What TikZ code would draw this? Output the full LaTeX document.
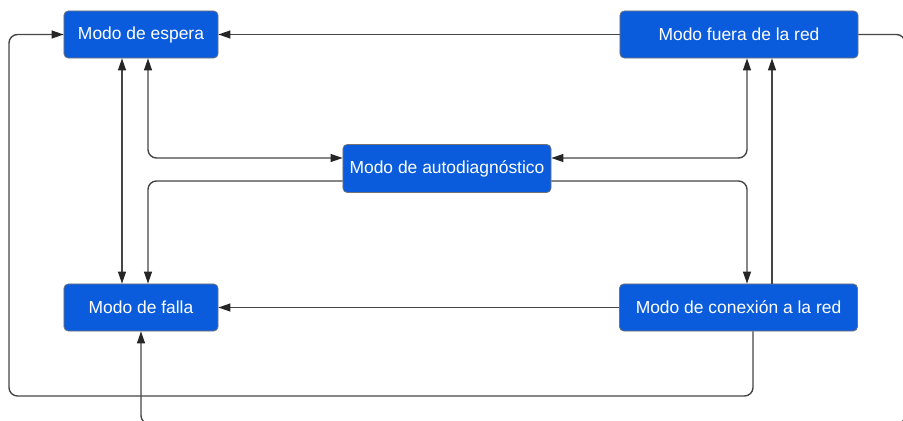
\documentclass[tikz,border=0pt]{standalone}
\usepackage{fontspec}
\setmainfont{Liberation Sans}
\usetikzlibrary{arrows.meta}

\definecolor{modoazul}{HTML}{0A5CDC}
\definecolor{lineagris}{HTML}{454545}

\begin{document}
\begin{tikzpicture}[x=0.025cm, y=-0.025cm, >={Triangle[length=8.5pt,width=5.6pt,color=black!85]},
  modo/.style={draw=black!55, line width=0.5pt, fill=modoazul, rounded corners=3pt, text=white,
    font=\fontsize{12.4}{15}\selectfont, minimum height=1.175cm, inner sep=0pt},
  flecha/.style={draw=lineagris, line width=1pt, rounded corners=6pt}]
\useasboundingbox (0,0) rectangle (903,421);
\clip (0,0) rectangle (903,421);

\node[modo, minimum width=3.85cm] (espera) at (141,34.5) {Modo de espera};
\node[modo, minimum width=5.95cm] (fuera) at (739,34.5) {Modo fuera de la red};
\node[modo, minimum width=5.2cm, minimum height=1.2cm] (auto) at (447,168.5) {Modo de autodiagn\'ostico};
\node[modo, minimum width=3.85cm] (falla) at (141,307.5) {Modo de falla};
\node[modo, minimum width=5.95cm] (conex) at (738.5,307.5) {Modo de conexi\'on a la red};

% columnas y filas de las lineas
\coordinate (colA) at (122,0);
\coordinate (colB) at (148,0);
\coordinate (colC) at (747,0);
\coordinate (colD) at (772,0);
\coordinate (colE) at (753,0);
\coordinate (filaU) at (0,158);
\coordinate (filaL) at (0,181);
\coordinate (esqIzq) at (9,396);
\coordinate (esqDer) at (905,424);

\draw[flecha, ->] (fuera) -- (espera);
\draw[flecha, <->] (espera.south -| colA) -- (falla.north -| colA);
\draw[flecha, <->] (espera.south -| colB) |- (auto.west |- filaU);
\draw[flecha, ->] (auto.west |- filaL) -| (falla.north -| colB);
\draw[flecha, <->] (fuera.south -| colC) |- (auto.east |- filaU);
\draw[flecha, ->] (auto.east |- filaL) -| (conex.north -| colC);
\draw[flecha, ->] (conex.north -| colD) -- (fuera.south -| colD);
\draw[flecha, ->] (conex) -- (falla);

% vueltas exteriores
\draw[flecha, ->] (conex.south -| colE) |- (esqIzq) |- (espera.west);
\draw[flecha, ->] (fuera.east) -| (esqDer) -| (falla.south);
\end{tikzpicture}
\end{document}
